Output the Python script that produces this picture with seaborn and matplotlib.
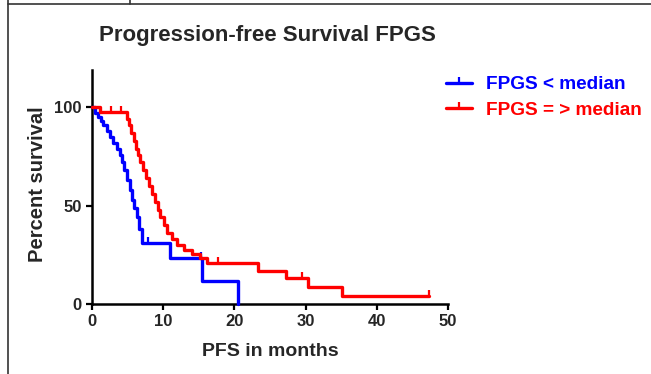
import matplotlib
matplotlib.use("Agg")
import matplotlib.pyplot as plt
from matplotlib.lines import Line2D
from matplotlib.path import Path
import seaborn as sns
import pandas as pd

# step points of the Kaplan-Meier curves (months, percent survival)
blue_t = [0, 0.4, 0.8, 1.2, 1.6, 2.1, 2.5, 3.0, 3.5, 3.9, 4.2, 4.5, 4.9, 5.3, 5.6,
          5.9, 6.3, 6.6, 7.0, 11.0, 15.4, 20.5]
blue_s = [100, 97, 95, 93, 91, 88, 85, 82, 79, 76, 72, 68, 63, 58, 53,
          49, 44, 38, 31, 23.3, 11.6, 0]
red_t = [0, 1.1, 4.9, 5.2, 5.5, 5.9, 6.2, 6.5, 6.8, 7.2, 7.6, 8.0, 8.4, 8.8, 9.2,
         9.6, 10.1, 10.6, 11.3, 12.0, 12.9, 14.0, 15.1, 16.2, 23.3, 27.3, 30.4, 35.1, 47.3]
red_s = [100, 97.5, 94, 91, 87, 83, 79, 76, 72, 68, 64, 60, 56, 52, 48,
         44, 40, 36, 33, 30, 27.5, 25.5, 23.5, 21, 17, 13.3, 8.7, 4.3, 4.3]

# censored observations
blue_cens_t = [7.9, 15.3]
blue_cens_s = [31, 23.3]
red_cens_t = [2.7, 4.1, 17.7, 29.5, 47.3]
red_cens_s = [97.5, 97.5, 21, 13.3, 4.3]

groups = ["FPGS < median", "FPGS = > median"]
colors = {"FPGS < median": "#0000ff", "FPGS = > median": "#ff0000"}

df = pd.DataFrame({
    "t": blue_t + red_t,
    "s": blue_s + red_s,
    "g": [groups[0]] * len(blue_t) + [groups[1]] * len(red_t),
})
cens = pd.DataFrame({
    "t": blue_cens_t + red_cens_t,
    "s": blue_cens_s + red_cens_s,
    "g": [groups[0]] * len(blue_cens_t) + [groups[1]] * len(red_cens_t),
})

sns.set_style("ticks")
plt.rcParams["font.family"] = ["Liberation Sans", "DejaVu Sans"]
plt.rcParams["font.weight"] = "bold"

# tick mark for censoring (points upward only)
tick = Path([(0, 0), (0, 1)], [Path.MOVETO, Path.LINETO])

fig = plt.figure(figsize=(6.51, 3.74), dpi=100)
ax = fig.add_axes([92 / 651, 1 - 304 / 374, 356 / 651, 234 / 374])

for g in groups:
    sub = df[df.g == g]
    sns.lineplot(x=sub.t, y=sub.s, ax=ax, color=colors[g], lw=2.4,
                 drawstyle="steps-post", estimator=None, sort=False,
                 clip_on=False, zorder=3)
    c = cens[cens.g == g]
    ax.plot(c.t, c.s, ls="none", marker=tick, ms=9, mew=1.6,
            color=colors[g], clip_on=False, zorder=3)

ax.set_xlim(0, 50)
ax.set_ylim(0, 119)
ax.set_xticks([0, 10, 20, 30, 40, 50])
ax.set_yticks([0, 50, 100])
sns.despine(ax=ax)
for sp in ["left", "bottom"]:
    ax.spines[sp].set_linewidth(1.8)
    ax.spines[sp].set_color("black")
ax.tick_params(length=4.5, width=1.6, color="black", labelsize=12, pad=3)
for lab in ax.get_xticklabels() + ax.get_yticklabels():
    lab.set_fontweight("bold")

ax.set_xlabel("PFS in months", fontsize=14, fontweight="bold")
ax.set_ylabel("Percent survival", fontsize=14.5, fontweight="bold")
ax.xaxis.set_label_coords(0.5, -0.165)
ax.yaxis.set_label_coords(-0.125, 0.51)

fig.text(267 / 651, 1 - 36 / 374, "Progression-free Survival FPGS",
         ha="center", va="center", fontsize=16, fontweight="bold")

handles = [Line2D([], [], color=colors[g], lw=2.4, marker=tick, ms=8, mew=1.6)
           for g in groups]
leg = ax.legend(handles, groups, loc="upper left",
                bbox_to_anchor=(446 / 651, 1 - 76 / 374),
                bbox_transform=fig.transFigure, frameon=False,
                prop={"size": 13.7, "weight": "bold"}, handlelength=1.35,
                handletextpad=0.75, labelspacing=0.42, borderpad=0,
                borderaxespad=0, labelcolor="linecolor")

# page frame around the figure
fig.add_artist(Line2D([8 / 651, 8 / 651], [0, 1], color="#333333", lw=1.2,
                      transform=fig.transFigure))
fig.add_artist(Line2D([8 / 651, 1], [1 - 4 / 374, 1 - 4 / 374], color="#333333",
                      lw=1.2, transform=fig.transFigure))
fig.add_artist(Line2D([130 / 651, 130 / 651], [1 - 4 / 374, 1], color="#333333",
                      lw=1.2, transform=fig.transFigure))

fig.savefig("out.png", dpi=100)
